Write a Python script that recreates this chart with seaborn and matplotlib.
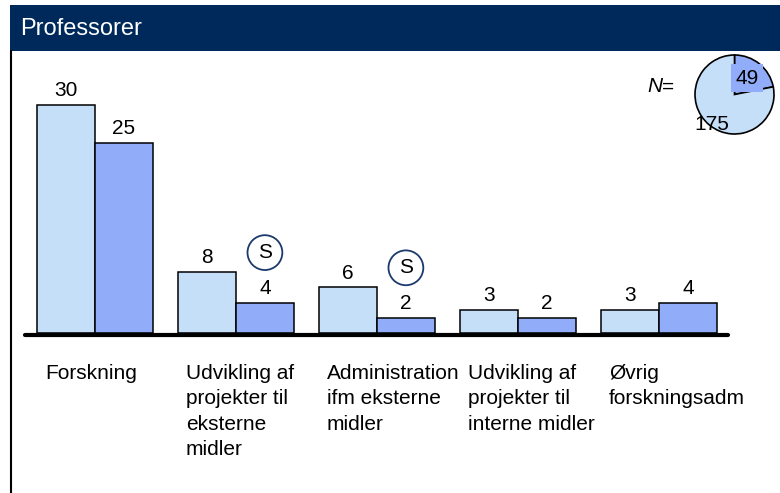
import matplotlib
matplotlib.use("Agg")
import matplotlib.pyplot as plt
from matplotlib.patches import Rectangle
from matplotlib.lines import Line2D
from matplotlib.transforms import blended_transform_factory
import pandas as pd
import seaborn as sns

# --- data -------------------------------------------------------------
categories = [
    "Forskning",
    "Udvikling af\nprojekter til\neksterne\nmidler",
    "Administration\nifm eksterne\nmidler",
    "Udvikling af\nprojekter til\ninterne midler",
    "Øvrig\nforskningsadm",
]
series_names = ["1", "2"]
values_1 = [30, 8, 6, 3, 3]
values_2 = [25, 4, 2, 2, 4]
significant = [False, True, True, False, False]   # marked with an "S" over series 2
pie_values = [49, 175]
title = "Professorer"

# --- style ------------------------------------------------------------
sns.set_style("white")
plt.rcParams["font.family"] = ["Liberation Sans", "DejaVu Sans"]
plt.rcParams["text.color"] = "black"

LIGHT = "#C6DFF9"
BLUE = "#91ACF8"
NAVY = "#00295B"
RING = "#1B3A6B"

W, H = 780, 493
fig = plt.figure(figsize=(W / 100, H / 100), dpi=100)


def fx(x):
    return x / W


def fy(y):
    return 1 - y / H


# header band and left frame line
fig.patches.append(Rectangle((fx(10), fy(51)), fx(770), 46 / H,
                             transform=fig.transFigure, fc=NAVY, ec="none"))
fig.lines.append(Line2D([fx(10.5), fx(10.5)], [fy(51), 0],
                        transform=fig.transFigure, color="black", lw=1.5))
fig.text(fx(20), fy(35), title, color="white", fontsize=17,
         ha="left", va="baseline")

# --- bars -------------------------------------------------------------
df = pd.DataFrame({
    "kategori": categories * 2,
    "andel": values_1 + values_2,
    "serie": [series_names[0]] * len(categories) + [series_names[1]] * len(categories),
})

ax = fig.add_axes([fx(23), fy(333), 707 / W, 266 / H])
sns.barplot(data=df, x="kategori", y="andel", hue="serie",
            palette=[LIGHT, BLUE], saturation=1, width=0.82,
            edgecolor="black", linewidth=1.1, legend=False, dodge=True,
            ax=ax, zorder=2)

ax.set_xlim(-0.511, 4.504)
ax.set_ylim(0, 35)
ax.set_axis_off()

for cont in ax.containers:
    ax.bar_label(cont, labels=[f"{v.get_height():g}" for v in cont],
                 padding=3.5, fontsize=15, color="black")

# thick base line
ax.plot([-0.496, 4.489], [-0.26, -0.26], color="black", lw=3.0,
        solid_capstyle="round", clip_on=False, zorder=5)

# "S" rings above the second series
for i, flag in enumerate(significant):
    if flag:
        ax.annotate("S", xy=(i + 0.205, values_2[i]), xytext=(0, 36),
                    textcoords="offset points", ha="center", va="center",
                    fontsize=15, color="black",
                    bbox=dict(boxstyle="circle,pad=0.38", fc="none",
                              ec=RING, lw=1.3))

# category labels, left aligned under each group
trans = blended_transform_factory(ax.transData, fig.transFigure)
for i, lab in enumerate(categories):
    ax.text(i - 0.355, fy(364), lab, transform=trans, ha="left",
            va="top", fontsize=15, linespacing=1.42, color="black")

# --- N pie ------------------------------------------------------------
pax = fig.add_axes([fx(695), fy(134), 79 / W, 79 / H])
wedges, _ = pax.pie(pie_values, colors=[BLUE, LIGHT], startangle=90,
                    counterclock=False,
                    wedgeprops=dict(edgecolor="black", linewidth=1.2))
for w in wedges:
    w.set_clip_on(False)
pax.set_xlim(-1, 1)
pax.set_ylim(-1, 1)

fig.text(fx(747), fy(78), f"{pie_values[0]}", fontsize=15, ha="center",
         va="center", bbox=dict(boxstyle="square,pad=0.2", fc=BLUE, ec="none"))
fig.text(fx(712), fy(124.5), f"{pie_values[1]}", fontsize=15, ha="center",
         va="center")
fig.text(fx(655), fy(87), "N", fontsize=15, style="italic", ha="center",
         va="center")
fig.text(fx(668), fy(87), "=", fontsize=15, ha="center", va="center")

fig.savefig("out.png", dpi=100)
